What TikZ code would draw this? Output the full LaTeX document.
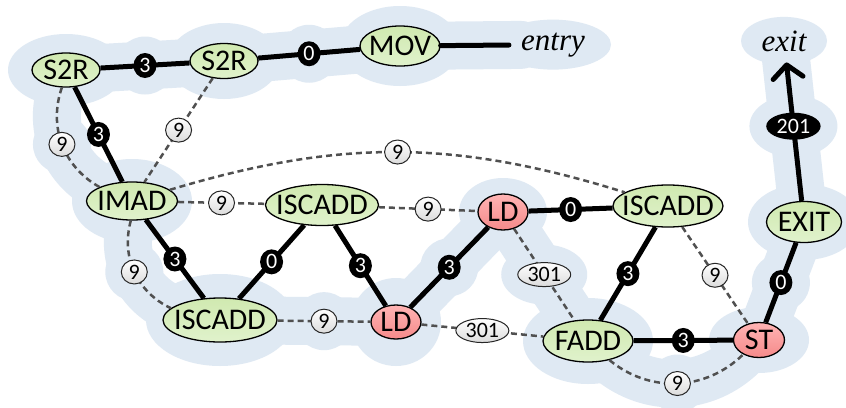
\documentclass[tikz,border=0pt]{standalone}
\usepackage{fontspec}
\setmainfont{Carlito}
\newfontfamily\serifit{Liberation Serif}
\usetikzlibrary{shapes.geometric,arrows.meta,backgrounds}
\definecolor{bgblue}{RGB}{223,233,243}
\definecolor{gtop}{RGB}{208,233,176}
\definecolor{gbot}{RGB}{224,242,204}
\definecolor{rtop}{RGB}{255,180,180}
\definecolor{rbot}{RGB}{245,138,138}
\definecolor{dgray}{RGB}{80,80,80}
\newcommand\optxt[1]{\makebox[0pt]{#1}}
\begin{document}
\begin{tikzpicture}[x=1pt,y=-1pt,
  op/.style 2 args={ellipse, draw=black, line width=1.3pt, inner sep=0pt,
    minimum width=#1, minimum height=#2, top color=gtop, bottom color=gbot,
    font=\fontsize{30}{30}\selectfont},
  opr/.style 2 args={op={#1}{#2}, top color=rtop, bottom color=rbot},
  io/.style={inner sep=0pt, anchor=base, font=\serifit\itshape\fontsize{31}{31}\selectfont},
  dep/.style={line width=5pt, draw=black},
  lat/.style={line width=2.5pt, draw=dgray, dash pattern=on 6pt off 4pt},
  bl/.style={ellipse, fill=black, draw=none, text=white, inner xsep=2.5pt, inner ysep=0pt,
    minimum width=23pt, minimum height=25pt, font=\fontsize{22}{22}\selectfont},
  gl/.style={ellipse, solid, draw=black!85, line width=1pt, top color=white, bottom color=black!14,
    text=black, inner xsep=2pt, inner ysep=0pt, minimum width=26pt, minimum height=24pt,
    font=\fontsize{22}{22}\selectfont},
  band/.style={draw=bgblue, line width=48pt, line cap=round, line join=round},
  halo/.style={fill=bgblue}
]
\useasboundingbox (0,0) rectangle (846,407);

% nodes
\node[op={68pt}{34pt}] (S2R1) at (66,70) {\optxt{S2R}};
\node[op={68pt}{35pt}] (S2R2) at (224,61) {\optxt{S2R}};
\node[op={80pt}{40pt}] (MOV) at (400,46) {\optxt{MOV}};
\node[io] (entry) at (553,50) {entry};
\node[io] (exit) at (784,51) {exit};
\node[op={91pt}{38pt}] (IMAD) at (132,201) {\optxt{IMAD}};
\node[op={113pt}{41pt}] (IC1) at (322,205) {\optxt{ISCADD}};
\node[opr={50pt}{36pt}] (LD1) at (503,212) {\optxt{LD}};
\node[op={110pt}{42pt}] (IC2) at (668,206) {\optxt{ISCADD}};
\node[op={75pt}{41pt}] (EXIT) at (804,222) {\optxt{EXIT}};
\node[op={114pt}{44pt}] (IC3) at (220,320) {\optxt{ISCADD}};
\node[opr={50pt}{34pt}] (LD2) at (396,322) {\optxt{LD}};
\node[op={90pt}{42pt}] (FADD) at (588,341) {\optxt{FADD}};
\node[opr={51pt}{35pt}] (ST) at (759,340) {\optxt{ST}};

% dashed (latency) edges
\draw[lat] (S2R1) to[bend right=40] node[gl] (b1) {9} (IMAD);
\draw[lat] (S2R2) -- node[gl] {9} (IMAD);
\draw[lat] (IMAD) to[bend left=17] node[gl] {9} (IC2);
\draw[lat] (IMAD) -- node[gl] {9} (IC1);
\draw[lat] (IC1) -- node[gl] {9} (LD1);
\draw[lat] (IMAD) to[bend right=40] node[gl] (b2) {9} (IC3);
\draw[lat] (IC3) -- node[gl] (b5) {9} (LD2);
\draw[lat] (LD2) -- node[gl] {301} (FADD);
\draw[lat] (LD1) -- node[gl] (b3) {301} (FADD);
\draw[lat] (IC2) -- node[gl] {9} (ST);
\draw[lat] (FADD) to[bend right=42] node[gl] (b4) {9} (ST);

% solid (dependency) edges
\draw[dep] (S2R1) -- node[bl] (a1) {3} (S2R2);
\draw[dep] (S2R2) -- node[bl] (a2) {0} (MOV);
\draw[dep, line cap=round, shorten >=12pt] (MOV) -- (entry);
\draw[dep] (S2R1) -- node[bl] {3} (IMAD);
\draw[dep] (IMAD) -- node[bl] {3} (IC3);
\draw[dep] (IC1) -- node[bl] {0} (IC3);
\draw[dep] (IC1) -- node[bl] {3} (LD2);
\draw[dep] (LD2) -- node[bl] (a5) {3} (LD1);
\draw[dep] (LD1) -- node[bl] {0} (IC2);
\draw[dep] (IC2) -- node[bl] {3} (FADD);
\draw[dep] (FADD) -- node[bl] {3} (ST);
\draw[dep] (ST) -- node[bl] (a6) {0} (EXIT);
\draw[dep, shorten >=11pt, -{Straight Barb[length=13pt,width=30pt,round]}] (EXIT) -- node[bl, minimum height=27pt] (a7) {201} (exit);

% critical-path highlight
\begin{pgfonlayer}{background}
\fill[white] (0,0) rectangle (846,407);
\draw[band] (entry) -- (MOV);
\draw[band] (MOV) -- (S2R2);
\draw[band] (S2R2) -- (S2R1);
\draw[band] (S2R1) to[bend right=40] (IMAD);
\draw[band] (IMAD) to[bend right=40] (IC3);
\draw[band] (IC3) -- (LD2);
\draw[band] (LD2) -- (LD1);
\draw[band] (LD1) -- (FADD);
\draw[band] (FADD) to[bend right=42] (ST);
\draw[band] (ST) -- (EXIT);
\draw[band] (EXIT) -- (exit);
\fill[halo] (S2R1) ellipse[x radius=58pt, y radius=36pt];
\fill[halo] (S2R2) ellipse[x radius=56pt, y radius=38pt];
\fill[halo] (MOV) ellipse[x radius=60pt, y radius=40pt];
\fill[halo] (entry) ellipse[x radius=58pt, y radius=25pt];
\fill[halo] (exit) ellipse[x radius=43pt, y radius=24pt];
\fill[halo] (IMAD) ellipse[x radius=60pt, y radius=42pt];
\fill[halo] (IC3) ellipse[x radius=74pt, y radius=46pt];
\fill[halo] (LD2) ellipse[x radius=45pt, y radius=44pt];
\fill[halo] (LD1) ellipse[x radius=44pt, y radius=34pt];
\fill[halo] (FADD) ellipse[x radius=65pt, y radius=43pt];
\fill[halo] (ST) ellipse[x radius=50pt, y radius=33pt];
\fill[halo] (EXIT) ellipse[x radius=56pt, y radius=38pt];
\foreach \l in {a1,a2,a5,a6,b1,b2,b4,b5} \fill[halo] (\l) circle[radius=29pt];
\fill[halo] (b3) ellipse[x radius=43pt, y radius=30pt];
\fill[halo] (a7) ellipse[x radius=44pt, y radius=31pt];
\end{pgfonlayer}
\end{tikzpicture}
\end{document}
